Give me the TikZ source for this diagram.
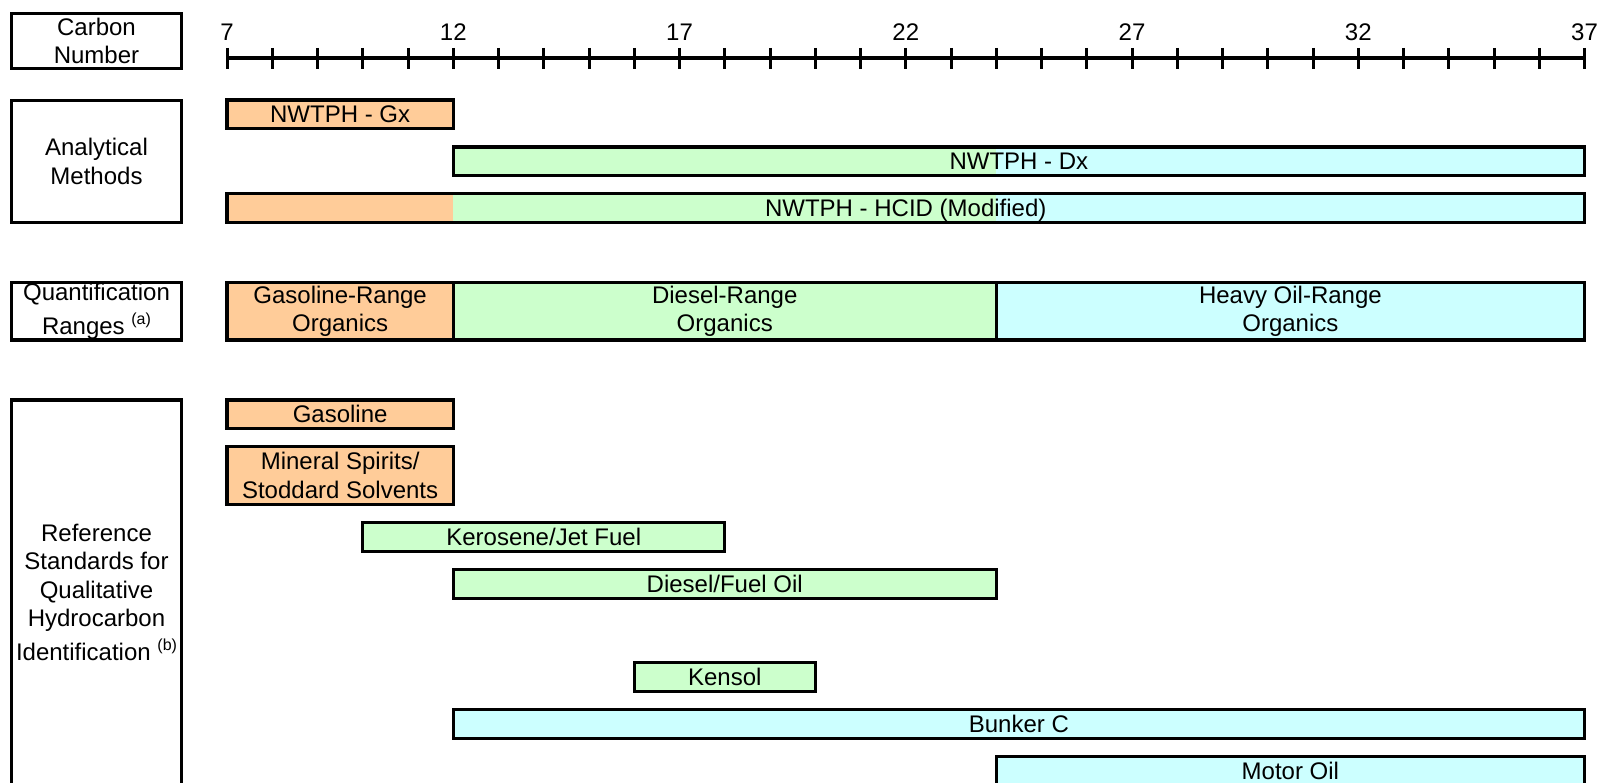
\documentclass[tikz,border=0pt]{standalone}
\usepackage{fontspec}
\setmainfont{Liberation Sans}
\usetikzlibrary{backgrounds}
\definecolor{GasOrange}{HTML}{FFCC99}
\definecolor{DieselGreen}{HTML}{CCFFCC}
\definecolor{OilCyan}{HTML}{CCFFFF}
% x position of a carbon number, and the width of one carbon step
\newcommand{\carb}[1]{227+45.25*((#1)-7)}
\newcommand{\cw}{45.25pt}

\begin{document}
\begin{tikzpicture}[x=1pt, y=-1pt,
  label box/.style={draw=black, line width=3.3pt, minimum width=169.5pt, align=center, inner sep=0pt, font=\fontsize{24}{28.5}\selectfont},
  bar/.style={draw=black, line width=3.3pt, minimum height=28.5pt, inner sep=0pt, text height=22.2pt, text depth=5pt, font=\fontsize{24}{28.5}\selectfont},
  tall bar/.style={draw=black, line width=3.3pt, minimum height=57.5pt, inner sep=0pt, align=center, font=\fontsize{24}{28.5}\selectfont},
  tick label/.style={font=\fontsize{24}{26}\selectfont, inner sep=0pt, anchor=base}]
\useasboundingbox (0,0) rectangle (1600,783);

% carbon number axis
\foreach \c in {7,...,37}
  \coordinate (c\c) at ({\carb{\c}},58);
\draw[line width=3.3pt] (c7) -- (c37);
\foreach \c in {7,...,37}
  \draw[line width=3pt] (c\c) ++(0,-10) -- ++(0,21);
\foreach \c in {7,12,...,37}
  \node[tick label] (lab\c) at ({\carb{\c}},41) {\c};

% row headings
\node[label box, minimum height=55pt] (carbon) at (96.5,41) {Carbon\\Number};
\node[label box, minimum height=122pt] (methods) at (96.5,161.3) {Analytical\\Methods};
\node[label box, minimum height=57.5pt] (quant) at (96.5,311.3) {Quantification\\[5.5pt]Ranges \raisebox{10pt}{\fontsize{16}{16}\selectfont(a)}};
\node[label box, minimum height=385pt] (refstd) at (96.5,592.5) {Reference\\Standards for\\Qualitative\\Hydrocarbon\\[5.5pt]Identification \raisebox{10pt}{\fontsize{16}{16}\selectfont(b)}};

% analytical methods
\node[bar, fill=GasOrange, minimum width=5*\cw] (gx) at ({\carb{9.5}},114.3) {NWTPH - Gx};
\node[bar, minimum width=25*\cw] (dx) at ({\carb{24.5}},161.3) {NWTPH - Dx};
\node[bar, minimum width=30*\cw] (hcid) at ({\carb{22}},208) {NWTPH - HCID (Modified)};
\begin{scope}[on background layer]
  \fill[DieselGreen] (dx.north west) rectangle (dx.south -| c24);
  \fill[OilCyan] (dx.north -| c24) rectangle (dx.south east);
  \fill[GasOrange] (hcid.north west) rectangle (hcid.south -| c12);
  \fill[DieselGreen] (hcid.north -| c12) rectangle (hcid.south -| c24);
  \fill[OilCyan] (hcid.north -| c24) rectangle (hcid.south east);
\end{scope}

% quantification ranges
\node[tall bar, fill=GasOrange, minimum width=5*\cw] (gro) at ({\carb{9.5}},311.3) {Gasoline-Range\\Organics};
\node[tall bar, fill=DieselGreen, minimum width=12*\cw] (dro) at ({\carb{18}},311.3) {Diesel-Range\\Organics};
\node[tall bar, fill=OilCyan, minimum width=13*\cw] (oro) at ({\carb{30.5}},311.3) {Heavy Oil-Range\\Organics};

% reference standards
\node[bar, fill=GasOrange, minimum width=5*\cw] (gasoline) at ({\carb{9.5}},414.2) {Gasoline};
\node[tall bar, fill=GasOrange, minimum width=5*\cw] (mineral) at ({\carb{9.5}},475.5) {Mineral Spirits/\\Stoddard Solvents};
\node[bar, fill=DieselGreen, minimum width=8*\cw] (kerosene) at ({\carb{14}},537) {Kerosene/Jet Fuel};
\node[bar, fill=DieselGreen, minimum width=12*\cw] (diesel) at ({\carb{18}},584) {Diesel/Fuel Oil};
\node[bar, fill=DieselGreen, minimum width=4*\cw] (kensol) at ({\carb{18}},677) {Kensol};
\node[bar, fill=OilCyan, minimum width=25*\cw] (bunker) at ({\carb{24.5}},724) {Bunker C};
\node[bar, fill=OilCyan, minimum width=13*\cw] (motoroil) at ({\carb{30.5}},771) {Motor Oil};
\end{tikzpicture}
\end{document}
